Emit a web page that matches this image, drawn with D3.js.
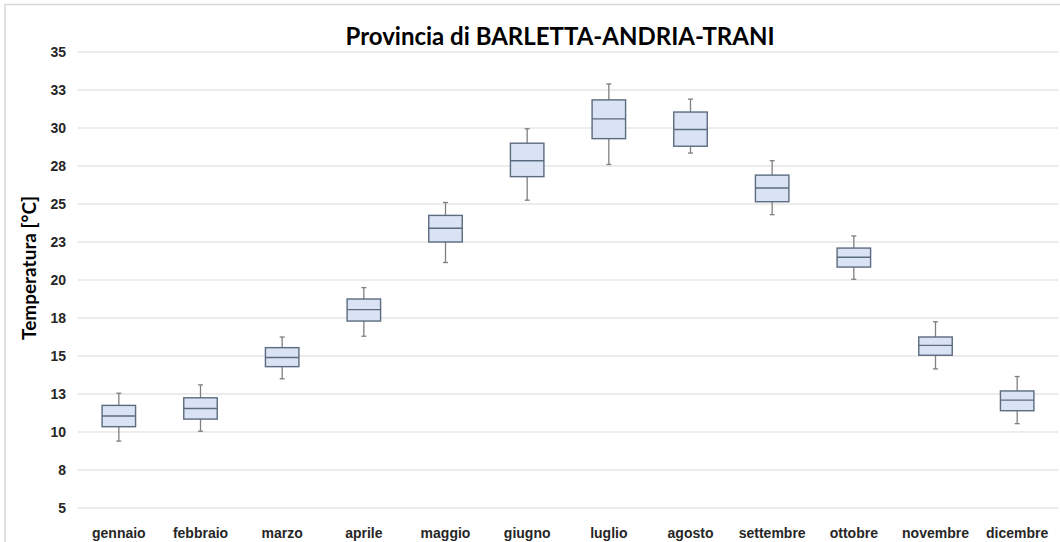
<!DOCTYPE html>
<html>
<head>
<meta charset="utf-8">
<script src="https://cdn.jsdelivr.net/npm/d3@7"></script>
<style>
  html, body { margin: 0; padding: 0; background: #fff; }
  svg { display: block; font-family: Lato, "Open Sans", sans-serif; }
</style>
</head>
<body>
<svg id="chart" width="1060" height="542"></svg>
<script>
// --- dati ---
const months = ["gennaio", "febbraio", "marzo", "aprile", "maggio", "giugno",
                "luglio", "agosto", "settembre", "ottobre", "novembre", "dicembre"];
const whiskerMin = [9.4, 10.05, 13.5, 16.3, 21.15, 25.25, 27.6, 28.35, 24.3, 20.05, 14.15, 10.55];
const q1         = [10.35, 10.85, 14.3, 17.3, 22.5, 26.8, 29.3, 28.8, 25.15, 20.85, 15.05, 11.4];
const median     = [11.05, 11.55, 14.9, 18.05, 23.4, 27.85, 30.6, 29.9, 26.05, 21.5, 15.7, 12.1];
const q3         = [11.75, 12.25, 15.55, 18.75, 24.25, 29.0, 31.85, 31.05, 26.9, 22.1, 16.25, 12.7];
const whiskerMax = [12.55, 13.1, 16.25, 19.5, 25.1, 29.95, 32.9, 31.9, 27.85, 22.9, 17.25, 13.65];
const yTicks = [5, 7.5, 10, 12.5, 15, 17.5, 20, 22.5, 25, 27.5, 30, 32.5, 35];

const svg = d3.select("#chart");
const W = 1060, H = 542;
const m = { left: 78, right: 2, top: 52, bottom: 34 };

// cornice
svg.append("rect")
  .attr("x", 5).attr("y", 4.5).attr("width", W + 10).attr("height", H + 10)
  .attr("fill", "none").attr("stroke", "#d9d9d9").attr("stroke-width", 1.5);

const x = d3.scaleBand().domain(months).range([m.left, W - m.right]);
const y = d3.scaleLinear().domain([5, 35]).range([H - m.bottom, m.top]);

// griglia
svg.append("g").selectAll("line").data(yTicks).join("line")
  .attr("x1", m.left).attr("x2", W - m.right)
  .attr("y1", d => y(d)).attr("y2", d => y(d))
  .attr("stroke", "#d9d9d9").attr("stroke-width", 1.2);

// asse Y (etichette arrotondate come in Excel)
const yAxis = svg.append("g")
  .attr("transform", `translate(${m.left - 12},0)`)
  .call(d3.axisLeft(y).tickValues(yTicks).tickSize(0)
    .tickFormat(d => String(Math.round(d + 1e-9))));
yAxis.select(".domain").remove();
yAxis.selectAll("text")
  .attr("x", 0).attr("dy", "0.35em")
  .style("font-size", "14px").style("font-weight", "bold").attr("fill", "#262626");

// asse X
const xAxis = svg.append("g")
  .attr("transform", `translate(0,${H - m.bottom})`)
  .call(d3.axisBottom(x).tickSize(0));
xAxis.select(".domain").remove();
xAxis.selectAll("text")
  .attr("y", 20)
  .style("font-size", "14px").style("font-weight", "bold").attr("fill", "#262626");

// box plot
const boxW = x.bandwidth() * 0.41;
const cap = 5;
const g = svg.append("g");
months.forEach((mo, i) => {
  const cx = x(mo) + x.bandwidth() / 2;
  const gg = g.append("g");
  gg.append("line")
    .attr("x1", cx).attr("x2", cx)
    .attr("y1", y(whiskerMax[i])).attr("y2", y(q3[i]))
    .attr("stroke", "#7f7f7f").attr("stroke-width", 1.3);
  gg.append("line")
    .attr("x1", cx).attr("x2", cx)
    .attr("y1", y(q1[i])).attr("y2", y(whiskerMin[i]))
    .attr("stroke", "#7f7f7f").attr("stroke-width", 1.3);
  [whiskerMax[i], whiskerMin[i]].forEach(v => {
    gg.append("line")
      .attr("x1", cx - cap / 2).attr("x2", cx + cap / 2)
      .attr("y1", y(v)).attr("y2", y(v))
      .attr("stroke", "#7f7f7f").attr("stroke-width", 1.3);
  });
  gg.append("rect")
    .attr("x", cx - boxW / 2).attr("width", boxW)
    .attr("y", y(q3[i])).attr("height", y(q1[i]) - y(q3[i]))
    .attr("fill", "#dae3f3").attr("stroke", "#5b6b80").attr("stroke-width", 1.4);
  gg.append("line")
    .attr("x1", cx - boxW / 2).attr("x2", cx + boxW / 2)
    .attr("y1", y(median[i])).attr("y2", y(median[i]))
    .attr("stroke", "#5b6b80").attr("stroke-width", 1.4);
});

// titolo
svg.append("text")
  .attr("x", 560).attr("y", 45)
  .attr("text-anchor", "middle")
  .style("font-size", "24px").style("font-weight", "bold").attr("fill", "#000")
  .text("Provincia di BARLETTA-ANDRIA-TRANI");

// titolo asse Y
svg.append("text")
  .attr("transform", "translate(36,268) rotate(-90)")
  .attr("text-anchor", "middle")
  .style("font-size", "19px").style("font-weight", "bold").attr("fill", "#000")
  .text("Temperatura [°C]");
</script>
</body>
</html>
